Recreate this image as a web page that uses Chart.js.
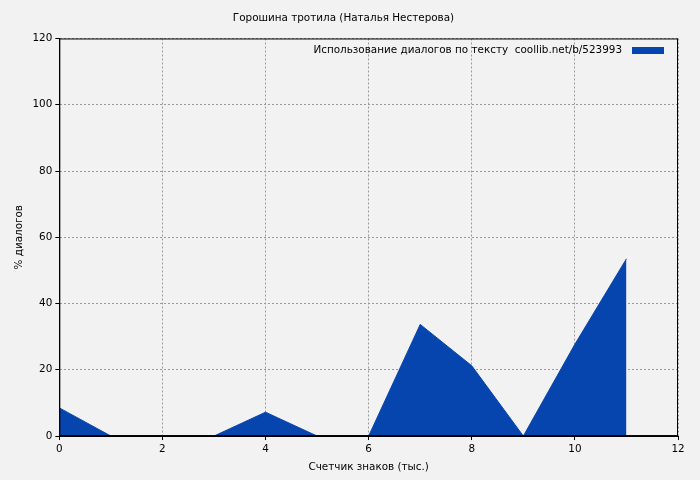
<!DOCTYPE html>
<html><head><meta charset="utf-8">
<script src="https://cdn.jsdelivr.net/npm/chart.js@4/dist/chart.umd.min.js"></script>
<style>html,body{margin:0;background:#f2f2f2}#w{width:700px;height:480px}</style>
</head><body><div id="w"><canvas id="c"></canvas></div>
<script>
const xValues=[0,1,2,3,4,5,6,7,8,9,10,11];
const yValues=[8.5,0,0,0,7.2,0,0,33.7,21.2,0,27.7,53.5];
const seriesLabel="Использование диалогов по тексту  coollib.net/b/523993";
const titleText="Горошина тротила (Наталья Нестерова)";
const xTitle="Счетчик знаков (тыс.)";
const yTitle="% диалогов";
const F="DejaVu Sans";
const FS=10.4;
const blue="#0645ad";
const legendPlugin={id:'lg',afterDraw(ch){const a=ch.chartArea,c=ch.ctx;c.save();
c.strokeStyle="#000";c.lineWidth=1;c.strokeRect(a.left+0.5,a.top+0.5,a.right-a.left-1,a.bottom-a.top-1);
c.font=FS+"px "+F;c.fillStyle="#000";c.textAlign="right";c.textBaseline="middle";c.fillText(seriesLabel,a.right-56,50);c.fillStyle=blue;c.fillRect(a.right-46,47,32,7);c.restore();}};
const bg={id:'bg',beforeDraw(ch){const c=ch.ctx;c.save();c.fillStyle="#f2f2f2";c.fillRect(0,0,ch.width,ch.height);c.restore();}};
new Chart(document.getElementById('c'),{type:'line',
data:{datasets:[{label:seriesLabel,data:xValues.map((x,i)=>({x,y:yValues[i]})),fill:'origin',backgroundColor:blue,borderColor:blue,borderWidth:1,pointRadius:0,tension:0}]},
options:{responsive:true,maintainAspectRatio:false,animation:false,
layout:{padding:{top:0,right:22,left:9,bottom:2}},
plugins:{legend:{display:false},tooltip:{enabled:false},
title:{display:true,text:titleText,font:{family:F,size:FS,weight:'normal'},color:'#000',padding:{top:12,bottom:14}}},
scales:{x:{type:'linear',min:0,max:12,ticks:{stepSize:2,color:'#000',font:{family:F,size:FS}},title:{display:true,text:xTitle,color:'#000',font:{family:F,size:FS},padding:{top:3}},grid:{color:'#999',tickColor:'#000',tickLength:4},border:{color:'#000',dash:[2,2]}},
y:{min:0,max:120,ticks:{stepSize:20,color:'#000',font:{family:F,size:FS}},title:{display:true,text:yTitle,color:'#000',font:{family:F,size:FS}},grid:{color:'#999',tickColor:'#000',tickLength:4},border:{color:'#000',dash:[2,2]}}}},
plugins:[bg,legendPlugin]});
</script></body></html>
